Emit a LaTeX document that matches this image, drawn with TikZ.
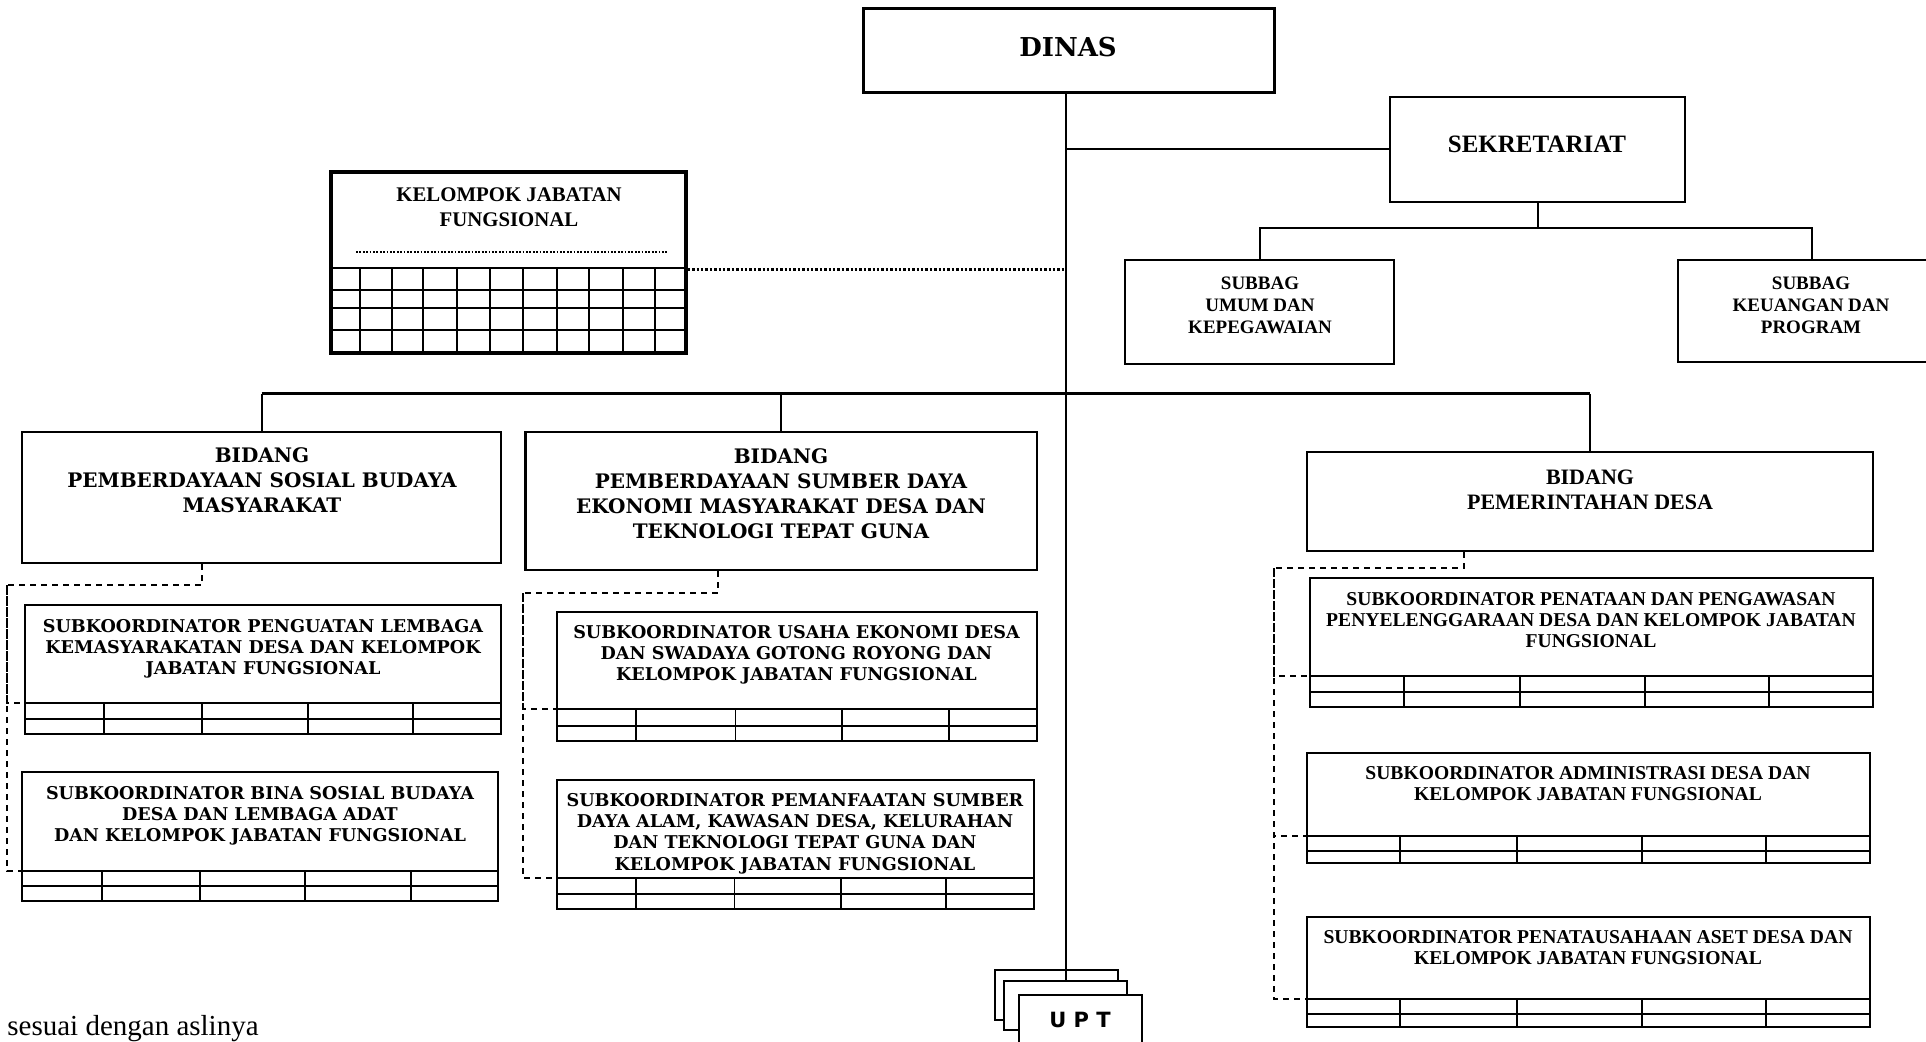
\documentclass[tikz,border=0pt]{standalone}
\usepackage{fontspec}
\setmainfont{Liberation Serif}
\newfontfamily\bkserif{DejaVu Serif}
\newfontfamily\tmserif{Liberation Serif}
\newfontfamily\sansbold{DejaVu Sans}
\usetikzlibrary{fit}

% font presets
\newcommand\fdinas{\bkserif\bfseries\fontsize{13}{16}\selectfont}
\newcommand\fbid{\bkserif\bfseries\fontsize{10}{12.5}\selectfont}
\newcommand\fsubA{\bkserif\bfseries\fontsize{8.8}{10.6}\selectfont}
\newcommand\fbidB{\tmserif\bfseries\fontsize{11}{12.5}\selectfont}
\newcommand\fsubB{\tmserif\bfseries\fontsize{9.8}{10.5}\selectfont}
\newcommand\fsek{\tmserif\bfseries\fontsize{12.5}{15}\selectfont}
\newcommand\fsubbag{\tmserif\bfseries\fontsize{9.5}{11}\selectfont}
\newcommand\fkjf{\tmserif\bfseries\fontsize{10.4}{12.3}\selectfont}
\newcommand\fupt{\sansbold\bfseries\fontsize{10.5}{12}\selectfont}
\newcommand\fnote{\tmserif\fontsize{14.5}{17}\selectfont}

% a sub-unit box with its two-row staff grid along the bottom
% #1 name, #2-#5 corners, #6 grid top, #7 grid middle, #8 column positions
\newcommand\subgrid[8]{%
  \node[subbox, fit={(#2,#3) (#4,#5)}] (#1) {};
  \draw[gridtop] (#2,#6) -- (#4,#6);
  \draw[gridmid] (#2,#7) -- (#4,#7);
  \foreach \cx in {#8} {\draw[gridmid] (\cx,#6) -- (\cx,#5);}
  \coordinate (#1t) at (#2,#6);
}

\begin{document}
\begin{tikzpicture}[x=0.5pt,y=-0.5pt,
  topbox/.style={draw, line width=1.5pt, inner sep=0pt, fill=white},
  midbox/.style={draw, line width=1.2pt, inner sep=0pt, fill=white},
  subbox/.style={draw, line width=1pt, inner sep=0pt, fill=white},
  kjfbox/.style={draw, line width=1.7pt, inner sep=0pt, fill=white},
  uptbox/.style={draw, line width=1pt, inner sep=0pt, fill=white},
  gridtop/.style={line width=1.2pt},
  gridmid/.style={line width=0.9pt},
  kjfgrid/.style={line width=1.3pt},
  txt/.style={inner sep=0pt, align=center, anchor=north},
  conn/.style={line width=1pt},
  busline/.style={line width=1.5pt},
  dashconn/.style={line width=0.75pt, dash pattern=on 3pt off 2.5pt},
  dotconn/.style={line width=1.5pt, dash pattern=on 1.2pt off 1pt},
  dotrule/.style={line width=1.1pt, dash pattern=on 0.9pt off 0.8pt},
]
\useasboundingbox (0,0) rectangle (1926,1042);
\clip (0,0) rectangle (1926,1042);

\coordinate (spine) at (1066,0);
\coordinate (bus) at (0,394);
\coordinate (sekbus) at (0,228);
\coordinate (kjfy) at (0,270);

% ---- head of office
\node[topbox, fit={(863,9) (1274,93)}] (dinas) {};
\node[txt, font=\fdinas] at (1068,36.5) {DINAS};

% ---- secretariat and its sections
\node[midbox, fit={(1390,97) (1685,202)}] (sek) {};
\node[txt, font=\fsek] at (1537,135.5) {SEKRETARIAT};
\node[midbox, fit={(1125,260) (1394,364)}] (u1) {};
\node[txt, font=\fsubbag] at (1260,276.7) {SUBBAG\\UMUM DAN\\KEPEGAWAIAN};
\node[midbox, fit={(1678,260) (1946,362)}] (u2) {};
\node[txt, font=\fsubbag] at (1811,276.7) {SUBBAG\\KEUANGAN DAN\\PROGRAM};

% ---- functional group
\node[kjfbox, fit={(331,172) (686,353)}] (kjf) {};
\node[txt, font=\fkjf] at (509,187.5) {KELOMPOK JABATAN\\FUNGSIONAL};
\draw[dotrule] (356,252) -- (667,252);
\foreach \gy in {268,290,308,330} {\draw[kjfgrid] (331,\gy) -- (686,\gy);}
\foreach \gx in {360,392,423,457,490,523,557,589,623,655} {\draw[kjfgrid] (\gx,268) -- (\gx,353);}

% ---- divisions
\node[midbox, fit={(22,432) (501,563)}] (b1) {};
\node[txt, font=\fbid] at (262,447) {BIDANG\\PEMBERDAYAAN SOSIAL BUDAYA\\MASYARAKAT};
\node[midbox, fit={(525.5,432) (1037,570)}] (b2) {};
\node[txt, font=\fbid] at (781,448) {BIDANG\\PEMBERDAYAAN SUMBER DAYA\\EKONOMI MASYARAKAT DESA DAN\\TEKNOLOGI TEPAT GUNA};
\node[midbox, fit={(1307,452) (1873,551)}] (b3) {};
\node[txt, font=\fbidB] at (1590,470) {BIDANG\\PEMERINTAHAN DESA};

% ---- sub-coordinators
\subgrid{s1}{25}{605}{501}{734}{703}{719}{104,202,308,413}
\node[txt, font=\fsubA] at (263,619) {SUBKOORDINATOR PENGUATAN LEMBAGA\\KEMASYARAKATAN DESA DAN KELOMPOK\\JABATAN FUNGSIONAL};
\subgrid{s2}{22}{772}{498}{901}{871}{886}{102,200,305,411}
\node[txt, font=\fsubA] at (260,786) {SUBKOORDINATOR BINA SOSIAL BUDAYA\\DESA DAN LEMBAGA ADAT\\DAN KELOMPOK JABATAN FUNGSIONAL};
\subgrid{s3}{556.5}{612}{1037}{741}{709}{726}{636,735.5,842,949}
\node[txt, font=\fsubA] at (796.5,625) {SUBKOORDINATOR USAHA EKONOMI DESA\\DAN SWADAYA GOTONG ROYONG DAN\\KELOMPOK JABATAN FUNGSIONAL};
\subgrid{s4}{556.5}{780}{1034}{909}{878}{894}{636,734.5,840.6,946}
\node[txt, font=\fsubA] at (795,793) {SUBKOORDINATOR PEMANFAATAN SUMBER\\DAYA ALAM, KAWASAN DESA, KELURAHAN\\DAN TEKNOLOGI TEPAT GUNA DAN\\KELOMPOK JABATAN FUNGSIONAL};
\subgrid{s5}{1310}{578}{1873}{707}{676}{692}{1404,1520,1645,1769}
\node[txt, font=\fsubB] at (1591,592.5) {SUBKOORDINATOR PENATAAN DAN PENGAWASAN\\PENYELENGGARAAN DESA DAN KELOMPOK JABATAN\\FUNGSIONAL};
\subgrid{s6}{1307}{753}{1870}{863}{836}{851}{1400,1517,1642,1766}
\node[txt, font=\fsubB] at (1588,766.5) {SUBKOORDINATOR ADMINISTRASI DESA DAN\\KELOMPOK JABATAN FUNGSIONAL};
\subgrid{s7}{1307}{917}{1870}{1027}{999}{1014}{1400,1517,1642,1766}
\node[txt, font=\fsubB] at (1588,930.5) {SUBKOORDINATOR PENATAUSAHAAN ASET DESA DAN\\KELOMPOK JABATAN FUNGSIONAL};

% ---- technical units (stacked)
\node[uptbox, fit={(995,970) (1118,1020)}] (upt1) {};
\node[uptbox, fit={(1004,981) (1127,1030)}] (upt2) {};
\node[uptbox, fit={(1019,995) (1142,1070)}] (upt3) {};
\node[txt, font=\fupt] at (1080,1012) {U P T};

% ---- solid lines of command
\draw[conn] (dinas.south -| spine) -- (upt2.north -| spine);
\draw[conn] (spine |- sek.west) -- (sek.west);
\draw[conn] (sek.south) -- (sek.south |- sekbus);
\draw[conn] (u1.north) -- (u1.north |- sekbus) -- (u2.north |- sekbus) -- (u2.north);
\draw[busline] (b1.north |- bus) -- (b3.north |- bus);
\draw[conn] (b1.north |- bus) -- (b1.north);
\draw[conn] (b2.north |- bus) -- (b2.north);
\draw[conn] (b3.north |- bus) -- (b3.north);

% ---- coordination lines
\draw[dotconn] (kjf.east |- kjfy) -- (spine |- kjfy);

\coordinate (d1) at (202,585); \coordinate (e1) at (7,585);
\draw[dashconn] (b1.south -| d1) -- (d1) -- (e1) |- (s1t);
\draw[dashconn] (e1) |- (s2t);
\coordinate (d2) at (718,593); \coordinate (e2) at (523,593);
\draw[dashconn] (b2.south -| d2) -- (d2) -- (e2) |- (s3t);
\draw[dashconn] (e2) |- (s4t);
\coordinate (d3) at (1464,568); \coordinate (e3) at (1274,568);
\draw[dashconn] (b3.south -| d3) -- (d3) -- (e3) |- (s5t);
\draw[dashconn] (e3) |- (s6t);
\draw[dashconn] (e3) |- (s7t);

% ---- footnote
\node[anchor=base west, inner sep=0pt, font=\fnote] (note) at (7,1035) {sesuai dengan aslinya};
\end{tikzpicture}
\end{document}
